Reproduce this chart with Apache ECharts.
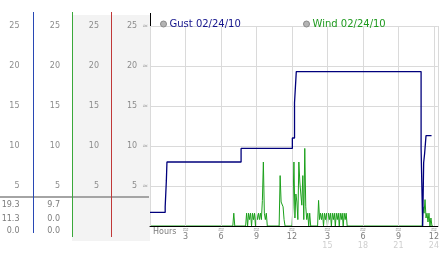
<!DOCTYPE html>
<html><head><meta charset="utf-8">
<script src="https://cdn.jsdelivr.net/npm/echarts@6/dist/echarts.min.js"></script>
<style>html,body{margin:0;padding:0;background:#fff}#c{width:442px;height:253px}</style>
</head><body><div id="c"></div>
<script>
// ---- data (times in minutes since midnight) ----
const gustName = 'Gust 02/24/10';
const windName = 'Wind 02/24/10';
const gustMinutes = [0, 77, 83, 86, 462, 722, 733, 742, 1375, 1383, 1388, 1393, 1400, 1428];
const gustValues  = [1.7, 2.4, 5.7, 8.0, 9.7, 11.0, 15.4, 19.3, 9.7, 0.0, 7.9, 9.1, 11.3, 11.3];
const windMinutes = [0,
  420, 425, 430,
  485, 490, 495, 500, 505, 510, 515, 520, 525, 530, 535, 540, 545, 550, 555, 560, 565, 570, 575, 580, 585, 590, 595,
  655, 660, 665, 670, 675, 680, 685,
  720, 725, 730, 735, 740, 745, 750, 755, 760, 765, 770, 775, 780, 785, 790, 795, 800, 805, 810, 815,
  850, 855, 860, 865, 870, 875, 880, 885, 890, 895, 900, 905, 910, 915, 920, 925, 930, 935, 940, 945, 950, 955, 960, 965, 970, 975, 980, 985, 990, 995, 1000,
  1380, 1385, 1390, 1395, 1400, 1405, 1410, 1415, 1420, 1425, 1430, 1435];
const windValues = [0,
  0, 1.6, 0,
  0, 1.6, 0, 1.6, 0.8, 1.6, 0, 1.6, 0.8, 1.6, 0, 1.6, 0.8, 1.6, 0.8, 1.6, 0.8, 3.2, 8.0, 1.6, 0.8, 1.6, 0,
  0, 6.3, 3.0, 3.2, 2.4, 0.8, 0,
  0, 2.4, 8.0, 1.0, 4.0, 3.0, 0.8, 8.0, 5.5, 4.0, 2.6, 6.3, 0.8, 9.7, 2.4, 0.8, 1.6, 0, 1.6, 0,
  0, 3.2, 0.8, 1.6, 0.8, 1.6, 0, 1.6, 0.8, 1.6, 0, 1.6, 0.8, 1.6, 0, 1.6, 0.8, 1.6, 0, 1.6, 0.8, 1.6, 0, 1.6, 0.8, 1.6, 0, 1.6, 0.8, 1.6, 0,
  0, 2.4, 1.6, 3.3, 1.0, 1.6, 0.5, 1.6, 0, 1.0, 0, 0];
// tick labels
const xTickValues = [3, 6, 9, 12, 15, 18, 21, 24];
const xTickTop    = ['3', '6', '9', '12', '3', '6', '9', '12'];
const xTickBottom = ['', '', '', '', '15', '18', '21', '24'];
const xStartLabel = 'Hours';
const yTickValues = [5, 10, 15, 20, 25];

const FONT = 'DejaVu Sans';
const gustData = gustMinutes.map((m, i) => [m / 60, gustValues[i]]);
const windData = windMinutes.map((m, i) => [m / 60, windValues[i]]);

function xLabel(v) {
  if (Math.abs(v) < 1e-6) return '{h|' + xStartLabel + '}';
  const i = xTickValues.findIndex(t => Math.abs(t - v) < 1e-6);
  if (i < 0) return '';
  let s = '{g|≈}\n{d|' + xTickTop[i] + '}';
  if (xTickBottom[i]) s += '\n{e|' + xTickBottom[i] + '}';
  return s;
}
function yLabelPlain(v) { return yTickValues.indexOf(v) >= 0 ? String(v) : ''; }

const colAxis = (offset, margin) => ({
  type: 'value', position: 'left', offset: offset, min: 0, max: 25, interval: 5,
  axisLine: {show: false, onZero: false}, axisTick: {show: false}, splitLine: {show: false},
  axisLabel: {margin: margin, color: '#8c8c8c', fontFamily: FONT, fontSize: 8, formatter: yLabelPlain}
});

const chart = echarts.init(document.getElementById('c'), null, {renderer: 'canvas'});
const option = {
  animation: false,
  backgroundColor: '#fff',
  grid: {left: 150, right: 0, top: 26, bottom: 27, containLabel: false},
  legend: [{
    left: 155, top: 14, itemWidth: 6, itemHeight: 6, icon: 'circle', selectedMode: false,
    data: [{name: gustName, itemStyle: {color: '#b4b4b4', borderColor: '#8a8a8a', borderWidth: 1}}],
    textStyle: {color: '#14148c', fontFamily: FONT, fontSize: 10, padding: [0, 0, 0, -2]}
  }, {
    left: 298, top: 14, itemWidth: 6, itemHeight: 6, icon: 'circle', selectedMode: false,
    data: [{name: windName, itemStyle: {color: '#b4b4b4', borderColor: '#8a8a8a', borderWidth: 1}}],
    textStyle: {color: '#1f9a1f', fontFamily: FONT, fontSize: 10, padding: [0, 0, 0, -2]}
  }],
  xAxis: {
    type: 'value', min: 0, max: 24.333, interval: 3, z: 3,
    axisLine: {lineStyle: {color: '#000', width: 1}},
    axisTick: {show: false},
    splitLine: {lineStyle: {color: '#dadada'}},
    axisLabel: {
      margin: 1, formatter: xLabel, alignMinLabel: 'left', hideOverlap: false,
      rich: {
        h: {fontFamily: FONT, fontSize: 8, lineHeight: 9, color: '#7c7c7c', padding: [0, 0, 0, 3]},
        g: {fontFamily: FONT, fontSize: 8, lineHeight: 6, color: '#9a9a9a'},
        d: {fontFamily: FONT, fontSize: 8, lineHeight: 8, color: '#7c7c7c'},
        e: {fontFamily: FONT, fontSize: 8, lineHeight: 9, color: '#cfcfcf'}
      }
    }
  },
  yAxis: [{
    type: 'value', position: 'left', min: 0, max: 25, interval: 5,
    axisLine: {show: true, onZero: false, lineStyle: {color: '#000'}},
    axisTick: {show: false},
    splitLine: {lineStyle: {color: '#dadada'}},
    axisLabel: {
      margin: 2,
      formatter: v => yTickValues.indexOf(v) >= 0 ? '{v|' + v + '}{g|≈}' : '',
      rich: {
        v: {fontFamily: FONT, fontSize: 8, color: '#8c8c8c'},
        g: {fontFamily: FONT, fontSize: 7, color: '#a8a8a8', padding: [0, 0, 0, 5]}
      }
    }
  }, colAxis(117, 13.5), colAxis(78, 12), colAxis(39, 12)],
  series: [{
    name: windName, type: 'line', data: windData, showSymbol: false, symbol: 'none',
    lineStyle: {color: '#1ca01c', width: 1}, itemStyle: {color: '#1ca01c'}, z: 2
  }, {
    name: gustName, type: 'line', step: 'end', data: gustData, showSymbol: false, symbol: 'none',
    lineStyle: {color: '#00007c', width: 1.3}, itemStyle: {color: '#00007c'}, z: 4
  }]
};
chart.setOption(option);

// ---- side panel (derived stats) ----
const stats = arr => [Math.max(...arr), arr[arr.length - 1], Math.min(...arr)].map(v => v.toFixed(1));
const gustStats = stats(gustValues);
const windStats = stats(windValues);
const axisX = Math.round(chart.convertToPixel({gridIndex: 0}, [0, 0])[0]) + 0.5;
const topY = Math.round(chart.convertToPixel({gridIndex: 0}, [0, 25])[1]);
const statRows = [205, 219, 231];
const txt = (x, y, s) => ({type: 'text', x: x, y: y, silent: true,
  style: {text: s, fill: '#7c7c7c', font: '8px "DejaVu Sans"', textAlign: 'right', textVerticalAlign: 'middle'}});
const graphics = [
  {type: 'rect', z: -1, silent: true, shape: {x: 72, y: 15, width: 39, height: 226}, style: {fill: '#f3f3f3'}},
  {type: 'rect', z: -1, silent: true, shape: {x: 111, y: 15, width: axisX - 111.5, height: 226}, style: {fill: '#f3f3f3'}},
  {type: 'rect', z: 0, silent: true, shape: {x: 0, y: 196, width: axisX - 1.5, height: 2}, style: {fill: '#a4a4a4'}},
  {type: 'line', z: 1, silent: true, shape: {x1: 33.5, y1: 12, x2: 33.5, y2: 233}, style: {stroke: '#2848b4', lineWidth: 1}},
  {type: 'line', z: 1, silent: true, shape: {x1: 72.5, y1: 12, x2: 72.5, y2: 237}, style: {stroke: '#3aa83a', lineWidth: 1}},
  {type: 'line', z: 1, silent: true, shape: {x1: 111.5, y1: 12, x2: 111.5, y2: 237}, style: {stroke: '#c03838', lineWidth: 1}},
  {type: 'line', z: 1, silent: true, shape: {x1: axisX, y1: 13, x2: axisX, y2: topY}, style: {stroke: '#000', lineWidth: 1}}
];
statRows.forEach((y, i) => {
  graphics.push(txt(19.5, y, gustStats[i]));
  graphics.push(txt(60, y, windStats[i]));
});
chart.setOption({graphic: {elements: graphics}});
</script></body></html>
